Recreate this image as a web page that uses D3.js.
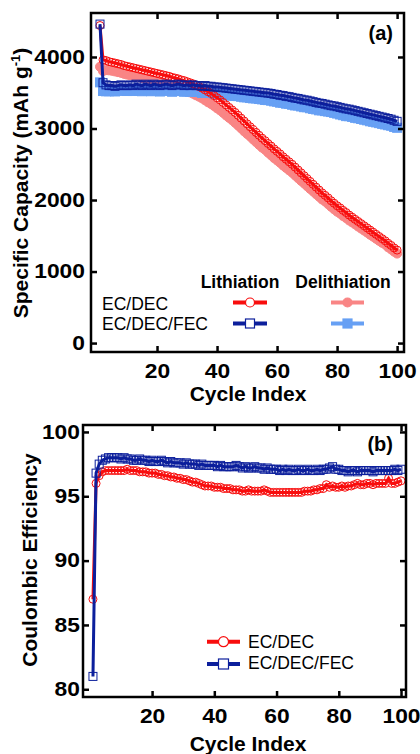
<!DOCTYPE html>
<html>
<head>
<meta charset="utf-8">
<script src="https://cdn.jsdelivr.net/npm/d3@7"></script>
<style>
  body { margin: 0; background: #fff; }
  text { font-family: "Liberation Sans", Arial, sans-serif; }
</style>
</head>
<body>
<svg id="chart" width="420" height="754"></svg>
<script>
var cycles = d3.range(1, 101);
var cycleTicks = [20, 40, 60, 80, 100];
var capTicks = [0, 1000, 2000, 3000, 4000];
var ceTicks = [80, 85, 90, 95, 100];

// (a) specific capacity, EC/DEC
var capLithEC = [4440,
  3960, 3950, 3935, 3925, 3915, 3905, 3895, 3880, 3870,
  3860, 3850, 3840, 3830, 3820, 3810, 3800, 3790, 3780, 3770,
  3760, 3750, 3740, 3730, 3715, 3705, 3695, 3680, 3670, 3655,
  3640, 3625, 3605, 3585, 3565, 3540, 3515, 3490, 3460, 3430,
  3400, 3365, 3330, 3295, 3260, 3225, 3185, 3145, 3105, 3065,
  3025, 2985, 2945, 2905, 2865, 2830, 2790, 2755, 2715, 2680,
  2645, 2605, 2570, 2535, 2500, 2460, 2420, 2380, 2340, 2300,
  2260, 2220, 2180, 2140, 2100, 2065, 2030, 1990, 1955, 1920,
  1890, 1855, 1825, 1790, 1760, 1730, 1700, 1670, 1640, 1610,
  1580, 1550, 1520, 1490, 1460, 1430, 1395, 1365, 1330, 1300];
var capDelithEC = [3863,
  3802, 3816, 3813, 3807, 3798, 3788, 3778, 3764, 3754,
  3744, 3738, 3725, 3715, 3705, 3692, 3682, 3673, 3659, 3649,
  3640, 3626, 3617, 3603, 3589, 3575, 3566, 3548, 3538, 3520,
  3505, 3487, 3464, 3445, 3422, 3395, 3367, 3343, 3315, 3283,
  3254, 3220, 3183, 3150, 3117, 3080, 3042, 3003, 2962, 2924,
  2889, 2848, 2810, 2771, 2733, 2703, 2662, 2626, 2587, 2554,
  2521, 2483, 2449, 2416, 2383, 2344, 2306, 2268, 2232, 2194,
  2156, 2120, 2082, 2046, 2008, 1980, 1943, 1906, 1871, 1837,
  1811, 1775, 1748, 1715, 1688, 1661, 1630, 1602, 1574, 1546,
  1515, 1488, 1459, 1430, 1402, 1379, 1339, 1310, 1278, 1251];

// (a) specific capacity, EC/DEC/FEC
var capLithFEC = [4460,
  3640, 3610, 3600, 3600, 3590, 3600, 3610, 3600, 3600,
  3610, 3600, 3620, 3610, 3600, 3620, 3610, 3600, 3620, 3610,
  3600, 3610, 3620, 3610, 3600, 3610, 3620, 3610, 3600, 3610,
  3600, 3610, 3600, 3600, 3590, 3600, 3590, 3590, 3580, 3580,
  3575, 3570, 3565, 3560, 3555, 3550, 3545, 3540, 3535, 3530,
  3525, 3520, 3515, 3510, 3505, 3500, 3495, 3490, 3480, 3475,
  3465, 3460, 3450, 3445, 3435, 3425, 3420, 3410, 3400, 3395,
  3385, 3375, 3365, 3355, 3350, 3340, 3330, 3320, 3315, 3305,
  3295, 3285, 3275, 3270, 3260, 3250, 3240, 3230, 3220, 3210,
  3200, 3190, 3180, 3170, 3160, 3150, 3140, 3130, 3115, 3100];
var capDelithFEC = [3645,
  3524, 3520, 3521, 3524, 3518, 3528, 3538, 3528, 3524,
  3538, 3524, 3544, 3531, 3521, 3544, 3531, 3521, 3537, 3531,
  3517, 3527, 3540, 3527, 3514, 3527, 3533, 3523, 3514, 3520,
  3514, 3520, 3510, 3510, 3497, 3510, 3497, 3497, 3487, 3487,
  3478, 3477, 3469, 3464, 3459, 3454, 3453, 3444, 3436, 3435,
  3426, 3421, 3420, 3412, 3407, 3399, 3397, 3389, 3379, 3374,
  3361, 3360, 3347, 3345, 3332, 3322, 3321, 3308, 3298, 3297,
  3283, 3274, 3267, 3254, 3253, 3243, 3237, 3230, 3219, 3209,
  3196, 3186, 3173, 3172, 3162, 3149, 3143, 3133, 3123, 3114,
  3101, 3094, 3085, 3075, 3065, 3056, 3046, 3039, 3022, 3010];

// (b) coulombic efficiency
var ceEC = [87.0,
  96.0, 96.6, 96.9, 97.0, 97.0, 97.0, 97.0, 97.0, 97.0,
  97.0, 97.1, 97.0, 97.0, 97.0, 96.9, 96.9, 96.9, 96.8, 96.8,
  96.8, 96.7, 96.7, 96.6, 96.6, 96.5, 96.5, 96.4, 96.4, 96.3,
  96.3, 96.2, 96.1, 96.1, 96.0, 95.9, 95.8, 95.8, 95.8, 95.7,
  95.7, 95.7, 95.6, 95.6, 95.6, 95.5, 95.5, 95.5, 95.4, 95.4,
  95.5, 95.4, 95.4, 95.4, 95.4, 95.5, 95.4, 95.3, 95.3, 95.3,
  95.3, 95.3, 95.3, 95.3, 95.3, 95.3, 95.3, 95.3, 95.4, 95.4,
  95.4, 95.5, 95.5, 95.6, 95.6, 95.9, 95.7, 95.8, 95.7, 95.7,
  95.8, 95.7, 95.8, 95.8, 95.9, 96.0, 95.9, 95.9, 96.0, 96.0,
  95.9, 96.0, 96.0, 96.0, 96.0, 96.4, 96.0, 96.0, 96.1, 96.2];
var ceFEC = [81.0,
  96.8, 97.5, 97.8, 97.9, 98.0, 98.0, 98.0, 98.0, 97.9,
  98.0, 97.9, 97.9, 97.8, 97.8, 97.9, 97.8, 97.8, 97.7, 97.8,
  97.7, 97.7, 97.8, 97.7, 97.6, 97.7, 97.6, 97.6, 97.6, 97.5,
  97.6, 97.5, 97.5, 97.5, 97.4, 97.5, 97.4, 97.4, 97.4, 97.4,
  97.3, 97.4, 97.3, 97.3, 97.3, 97.3, 97.4, 97.3, 97.2, 97.3,
  97.2, 97.2, 97.3, 97.2, 97.2, 97.1, 97.2, 97.1, 97.1, 97.1,
  97.0, 97.1, 97.0, 97.1, 97.0, 97.0, 97.1, 97.0, 97.0, 97.1,
  97.0, 97.0, 97.1, 97.0, 97.1, 97.1, 97.2, 97.3, 97.1, 97.1,
  97.0, 97.0, 96.9, 97.0, 97.0, 96.9, 97.0, 97.0, 97.0, 97.0,
  96.9, 97.0, 97.0, 97.0, 97.0, 97.0, 97.0, 97.1, 97.0, 97.1];

var red = "#f80d0d";
var pink = "#f98585";
var navy = "#0c1f9c";
var lightBlue = "#67a0f4";

var svg = d3.select("#chart");

function drawFrame(g, x, y, w, h, yTickVals, yPad) {
  g.append("g")
    .attr("transform", "translate(0," + h + ")")
    .call(d3.axisBottom(x).tickValues(cycleTicks).tickSize(-6).tickPadding(12).tickFormat(d3.format("d")))
    .call(styleAxis);
  g.append("g")
    .call(d3.axisTop(x).tickValues(cycleTicks).tickSize(-6).tickFormat(""))
    .call(styleAxis);
  g.append("g")
    .call(d3.axisLeft(y).tickValues(yTickVals).tickSize(-6).tickPadding(yPad).tickFormat(d3.format("d")))
    .call(styleAxis);
  g.append("g")
    .attr("transform", "translate(" + w + ",0)")
    .call(d3.axisRight(y).tickValues(yTickVals).tickSize(-6).tickFormat(""))
    .call(styleAxis);
  g.append("rect")
    .attr("width", w)
    .attr("height", h)
    .attr("fill", "none")
    .attr("stroke", "#000")
    .attr("stroke-width", 2.5);
}

function styleAxis(a) {
  a.select(".domain").remove();
  a.selectAll(".tick line").attr("stroke", "#000").attr("stroke-width", 2.5);
  a.selectAll(".tick text")
    .attr("fill", "#000")
    .style("font-size", "19.5px")
    .style("font-weight", "bold")
    .each(function() {
      // the reference digits are a bit wider than Liberation's
      var len = this.getComputedTextLength();
      if (len > 0) {
        d3.select(this)
          .attr("textLength", len * 1.17)
          .attr("lengthAdjust", "spacingAndGlyphs");
      }
    });
}

function drawSeries(g, x, y, values, color, shape, filled, size) {
  var line = d3.line()
    .x(function(d, i) { return x(cycles[i]); })
    .y(function(d) { return y(d); });
  g.append("path")
    .datum(values)
    .attr("d", line)
    .attr("fill", "none")
    .attr("stroke", color)
    .attr("stroke-width", 3);
  if (shape == "circle") {
    g.append("g").selectAll("circle")
      .data(values)
      .enter()
        .append("circle")
          .attr("cx", function(d, i) { return x(cycles[i]); })
          .attr("cy", function(d) { return y(d); })
          .attr("r", size)
          .attr("fill", filled ? color : "none")
          .attr("stroke", color)
          .attr("stroke-width", 1);
  } else {
    g.append("g").selectAll("rect")
      .data(values)
      .enter()
        .append("rect")
          .attr("x", function(d, i) { return x(cycles[i]) - size; })
          .attr("y", function(d) { return y(d) - size; })
          .attr("width", size * 2)
          .attr("height", size * 2)
          .attr("fill", filled ? color : "none")
          .attr("stroke", color)
          .attr("stroke-width", 1);
  }
}

function legendItem(g, x0, x1, yy, color, shape, filled, size) {
  g.append("line")
    .attr("x1", x0).attr("x2", x1)
    .attr("y1", yy).attr("y2", yy)
    .attr("stroke", color)
    .attr("stroke-width", 4);
  var cx = (x0 + x1) / 2;
  if (shape == "circle") {
    g.append("circle")
      .attr("cx", cx).attr("cy", yy).attr("r", size)
      .attr("fill", filled ? color : "#fff")
      .attr("stroke", color).attr("stroke-width", 1.2);
  } else {
    g.append("rect")
      .attr("x", cx - size).attr("y", yy - size)
      .attr("width", size * 2).attr("height", size * 2)
      .attr("fill", filled ? color : "#fff")
      .attr("stroke", color).attr("stroke-width", 1.2);
  }
}

// ---- panel (a)
var aLeft = 91, aTop = 13, aW = 313, aH = 339;
var ga = svg.append("g").attr("transform", "translate(" + aLeft + "," + aTop + ")");
var xa = d3.scaleLinear().domain([-2, 102.3]).range([0, aW]);
var ya = d3.scaleLinear().domain([-125, 4615]).range([aH, 0]);

drawSeries(ga, xa, ya, capDelithEC, pink, "circle", true, 4.5);
drawSeries(ga, xa, ya, capDelithFEC, lightBlue, "square", true, 4.5);
drawSeries(ga, xa, ya, capLithEC, red, "circle", false, 4);
drawSeries(ga, xa, ya, capLithFEC, navy, "square", false, 4);
drawFrame(ga, xa, ya, aW, aH, capTicks, 6);

ga.append("text")
  .attr("x", 302).attr("y", 27)
  .style("text-anchor", "end")
  .style("font-size", "20px").style("font-weight", "bold")
  .text("(a)");

ga.append("text").attr("x", 149).attr("y", 275)
  .style("text-anchor", "middle").style("font-size", "17.5px").style("font-weight", "bold")
  .text("Lithiation");
ga.append("text").attr("x", 252).attr("y", 275)
  .style("text-anchor", "middle").style("font-size", "17.5px").style("font-weight", "bold")
  .text("Delithiation");
ga.append("text").attr("x", 11).attr("y", 297)
  .style("font-size", "17.5px").text("EC/DEC");
ga.append("text").attr("x", 11).attr("y", 317)
  .style("font-size", "17.5px").text("EC/DEC/FEC");
legendItem(ga, 142, 176, 289.5, red, "circle", false, 4.5);
legendItem(ga, 240, 273, 289.5, pink, "circle", true, 4.5);
legendItem(ga, 142, 176, 310.5, navy, "square", false, 4.5);
legendItem(ga, 240, 273, 310.5, lightBlue, "square", true, 4.5);

svg.append("text")
  .attr("transform", "rotate(-90)")
  .attr("x", -183).attr("y", 28)
  .style("text-anchor", "middle")
  .style("font-size", "21px").style("font-weight", "bold")
  .html("Specific Capacity (mAh g<tspan dy='-8' font-size='13px'>-1</tspan><tspan dy='8'>)</tspan>");

svg.append("text")
  .attr("x", 248).attr("y", 401)
  .style("text-anchor", "middle")
  .style("font-size", "21px").style("font-weight", "bold")
  .text("Cycle Index");

// ---- panel (b)
var bLeft = 83, bTop = 425, bW = 323, bH = 272;
var gb = svg.append("g").attr("transform", "translate(" + bLeft + "," + bTop + ")");
var xb = d3.scaleLinear().domain([-2.2, 101.6]).range([0, bW]);
var yb = d3.scaleLinear().domain([79.4, 100.54]).range([bH, 0]);

drawSeries(gb, xb, yb, ceEC, red, "circle", false, 4);
drawSeries(gb, xb, yb, ceFEC, navy, "square", false, 4);
drawFrame(gb, xb, yb, bW, bH, ceTicks, 3);

gb.append("text")
  .attr("x", 310).attr("y", 26)
  .style("text-anchor", "end")
  .style("font-size", "20px").style("font-weight", "bold")
  .text("(b)");

legendItem(gb, 124, 157, 216.7, red, "circle", false, 5);
legendItem(gb, 124, 157, 239, navy, "square", false, 5);
gb.append("text").attr("x", 165).attr("y", 223)
  .style("font-size", "17.5px").text("EC/DEC");
gb.append("text").attr("x", 165).attr("y", 244)
  .style("font-size", "17.5px").text("EC/DEC/FEC");

svg.append("text")
  .attr("transform", "rotate(-90)")
  .attr("x", -560).attr("y", 37)
  .style("text-anchor", "middle")
  .style("font-size", "21px").style("font-weight", "bold")
  .text("Coulombic Efficiency");

svg.append("text")
  .attr("x", 248).attr("y", 751)
  .style("text-anchor", "middle")
  .style("font-size", "21px").style("font-weight", "bold")
  .text("Cycle Index");
</script>
</body>
</html>
